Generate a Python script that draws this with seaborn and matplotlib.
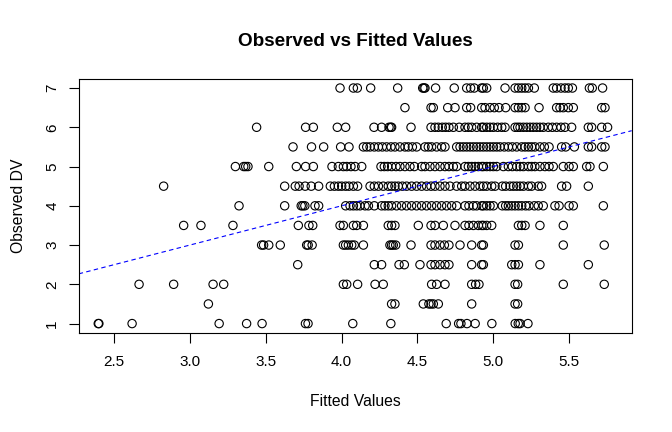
import numpy as np
import pandas as pd
import matplotlib
matplotlib.use("Agg")
import matplotlib.pyplot as plt
import seaborn as sns

# fitted values, one list per observed DV level
fit_dv7 = [3.990, 4.078, 4.104, 4.192, 4.370, 4.535, 4.543, 4.550, 4.620, 4.743, 4.825,
           4.851, 4.875, 4.924, 4.935, 4.957, 5.078, 5.144, 5.166, 5.188, 5.210, 5.232,
           5.271, 5.396, 5.418, 5.447, 5.473, 5.495, 5.522, 5.634, 5.653, 5.721]
fit_dv65 = [4.418, 4.590, 4.605, 4.700, 4.748, 4.825, 4.851, 4.924, 4.946, 4.979, 5.007,
            5.038, 5.082, 5.144, 5.166, 5.188, 5.210, 5.302, 5.418, 5.440, 5.462, 5.495,
            5.528, 5.715, 5.737]
fit_dv6 = [3.440, 3.763, 3.814, 3.972, 4.027, 4.214, 4.264, 4.313, 4.324, 4.330, 4.458,
           4.590, 4.616, 4.638, 4.664, 4.686, 4.708, 4.737, 4.776, 4.814, 4.836, 4.858,
           4.891, 4.924, 4.935, 4.957, 4.979, 5.001, 5.029, 5.056, 5.078, 5.144, 5.161,
           5.177, 5.199, 5.221, 5.243, 5.264, 5.286, 5.308, 5.330, 5.363, 5.390, 5.418,
           5.447, 5.473, 5.517, 5.627, 5.649, 5.715, 5.754]
fit_dv55 = [3.680, 3.802, 3.882, 3.994, 4.049, 4.144, 4.166, 4.188, 4.216, 4.243, 4.269,
            4.297, 4.326, 4.352, 4.385, 4.418, 4.440, 4.467, 4.495, 4.550, 4.572, 4.594,
            4.627, 4.660, 4.682, 4.759, 4.781, 4.803, 4.825, 4.847, 4.869, 4.891, 4.913,
            4.935, 4.957, 4.979, 5.001, 5.023, 5.045, 5.073, 5.100, 5.126, 5.155, 5.188,
            5.210, 5.232, 5.253, 5.275, 5.308, 5.337, 5.368, 5.451, 5.478, 5.535, 5.627,
            5.649, 5.715, 5.737]
fit_dv5 = [3.300, 3.355, 3.368, 3.383, 3.520, 3.702, 3.763, 3.814, 3.937, 3.979, 4.012,
           4.034, 4.062, 4.089, 4.133, 4.260, 4.282, 4.304, 4.330, 4.359, 4.385, 4.418,
           4.451, 4.480, 4.528, 4.550, 4.583, 4.616, 4.649, 4.682, 4.708, 4.737, 4.759,
           4.814, 4.836, 4.858, 4.880, 4.902, 4.924, 4.935, 4.957, 4.979, 5.001, 5.023,
           5.067, 5.100, 5.126, 5.155, 5.177, 5.199, 5.232, 5.253, 5.275, 5.308, 5.341,
           5.368, 5.396, 5.462, 5.500, 5.528, 5.616, 5.638, 5.726]
fit_dv45 = [2.827, 3.625, 3.695, 3.720, 3.760, 3.800, 3.849, 3.926, 3.953, 3.979, 4.001,
            4.027, 4.049, 4.078, 4.106, 4.188, 4.216, 4.243, 4.275, 4.308, 4.330, 4.352,
            4.374, 4.401, 4.429, 4.462, 4.495, 4.528, 4.561, 4.590, 4.616, 4.649, 4.682,
            4.715, 4.759, 4.792, 4.814, 4.847, 4.880, 4.913, 4.935, 4.957, 4.990, 5.012,
            5.060, 5.082, 5.111, 5.133, 5.155, 5.177, 5.199, 5.232, 5.253, 5.297, 5.319,
            5.451, 5.484, 5.627]
fit_dv4 = [3.324, 3.625, 3.734, 3.745, 3.758, 3.825, 3.849, 4.027, 4.056, 4.078, 4.100,
           4.122, 4.155, 4.177, 4.216, 4.264, 4.286, 4.308, 4.330, 4.363, 4.396, 4.429,
           4.462, 4.495, 4.528, 4.561, 4.594, 4.627, 4.660, 4.693, 4.726, 4.759, 4.814,
           4.840, 4.869, 4.891, 4.924, 4.935, 4.957, 4.979, 5.001, 5.060, 5.082, 5.100,
           5.122, 5.144, 5.166, 5.188, 5.214, 5.236, 5.271, 5.297, 5.330, 5.407, 5.434,
           5.500, 5.528, 5.726]
fit_dv35 = [2.959, 3.073, 3.284, 3.715, 3.785, 3.810, 3.990, 4.012, 4.078, 4.100, 4.144,
            4.308, 4.330, 4.352, 4.506, 4.590, 4.616, 4.671, 4.748, 4.814, 4.840, 4.869,
            4.902, 4.924, 4.935, 4.957, 4.990, 5.166, 5.188, 5.210, 5.308, 5.462]
fit_dv3 = [3.473, 3.486, 3.520, 3.596, 3.770, 3.780, 3.806, 4.012, 4.027, 4.045, 4.067,
           4.084, 4.144, 4.319, 4.330, 4.341, 4.357, 4.458, 4.590, 4.616, 4.649, 4.678,
           4.708, 4.781, 4.858, 4.924, 4.935, 5.144, 5.166, 5.462, 5.732]
fit_dv25 = [3.711, 4.216, 4.264, 4.379, 4.414, 4.517, 4.590, 4.616, 4.649, 4.682, 4.708,
            4.858, 4.924, 4.935, 5.122, 5.144, 5.166, 5.308, 5.627]
fit_dv2 = [2.665, 2.893, 3.153, 3.223, 4.012, 4.034, 4.106, 4.221, 4.275, 4.594, 4.627,
           4.682, 4.858, 4.884, 4.906, 5.144, 5.161, 5.462, 5.732]
fit_dv15 = [3.122, 4.330, 4.352, 4.539, 4.576, 4.590, 4.605, 4.638, 4.858, 5.144, 5.161]
fit_dv1 = [2.396, 2.400, 2.619, 3.193, 3.374, 3.476, 3.762, 3.779, 4.074, 4.325, 4.690,
           4.772, 4.787, 4.827, 4.881, 4.991, 5.145, 5.165, 5.177, 5.229]

dv_levels = [7, 6.5, 6, 5.5, 5, 4.5, 4, 3.5, 3, 2.5, 2, 1.5, 1]
fit_lists = [fit_dv7, fit_dv65, fit_dv6, fit_dv55, fit_dv5, fit_dv45, fit_dv4,
             fit_dv35, fit_dv3, fit_dv25, fit_dv2, fit_dv15, fit_dv1]

df = pd.DataFrame({
    "fitted": np.concatenate(fit_lists),
    "observed": np.concatenate([[lv] * len(fl) for lv, fl in zip(dv_levels, fit_lists)]),
})

plt.rcParams['font.family'] = ['Liberation Sans', 'DejaVu Sans']

fig = plt.figure(figsize=(6.72, 4.32), dpi=100)
ax = fig.add_axes([78.7 / 672, 1 - 333 / 432, (631.7 - 78.7) / 672, (333 - 78.6) / 432])

sns.scatterplot(data=df, x="fitted", y="observed", ax=ax, color="black",
                s=36, linewidth=0.8, marker="o")
for coll in ax.collections:
    coll.set_facecolor("none")
    coll.set_edgecolor("black")

ax.axline((0, 0), slope=1, color="blue", linestyle=(0, (4, 3)), linewidth=0.8)

ax.set_xlim(2.267, 5.913)
ax.set_ylim(0.76, 7.24)
ax.set_xticks([2.5, 3.0, 3.5, 4.0, 4.5, 5.0, 5.5])
ax.set_xticklabels(["2.5", "3.0", "3.5", "4.0", "4.5", "5.0", "5.5"])
ax.set_yticks([1, 2, 3, 4, 5, 6, 7])
ax.tick_params(axis="both", direction="out", length=7, width=0.8, labelsize=11,
               color="black")
ax.tick_params(axis="x", pad=9)
ax.tick_params(axis="y", pad=7)
for lab in ax.get_yticklabels():
    lab.set_rotation(90)
    lab.set_va("center")
for sp in ax.spines.values():
    sp.set_linewidth(0.8)
    sp.set_color("black")

ax.set_xlabel("")
ax.set_ylabel("")
fig.text(355 / 672, 1 - 401 / 432, "Fitted Values", ha="center", va="center", fontsize=11.3)
fig.text(19 / 672, 1 - 206 / 432, "Observed DV", ha="center", va="center",
         rotation=90, fontsize=11.3)
fig.text(355.5 / 672, 1 - 42 / 432, "Observed vs Fitted Values", ha="center", va="center",
         fontsize=13.6, fontweight="bold")

fig.savefig("out.png", dpi=100)
